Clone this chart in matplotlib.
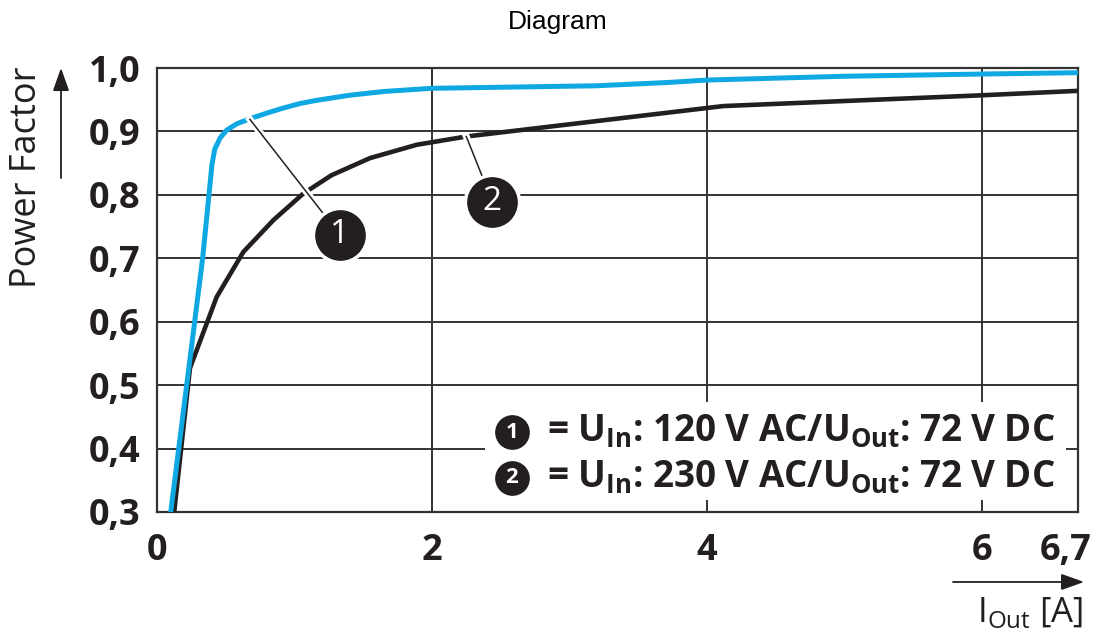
import matplotlib.pyplot as plt
import matplotlib.patheffects as pe
from matplotlib.patches import Rectangle

plt.rcParams['font.family'] = ['Open Sans', 'DejaVu Sans']
plt.rcParams['mathtext.fontset'] = 'custom'
plt.rcParams['mathtext.rm'] = 'Open Sans'
plt.rcParams['mathtext.bf'] = 'Open Sans:bold'

# 曲线数据
i_out_120 = [0.10, 0.216, 0.332, 0.40, 0.42, 0.46, 0.507, 0.58, 0.676, 0.80, 0.92, 1.04, 1.16, 1.28,
             1.40, 1.65, 2.0, 3.2, 3.7, 4.0, 5.0, 6.0, 6.7]
pf_120 = [0.30, 0.50, 0.70, 0.848, 0.872, 0.890, 0.902, 0.912, 0.920, 0.929, 0.937, 0.944, 0.949, 0.953,
          0.957, 0.963, 0.968, 0.972, 0.977, 0.981, 0.987, 0.9905, 0.9926]

i_out_230 = [0.125, 0.24, 0.434, 0.628, 0.846, 1.064, 1.27, 1.55, 1.89, 2.25, 4.12, 6.0, 6.7]
pf_230 = [0.30, 0.527, 0.639, 0.710, 0.760, 0.802, 0.831, 0.858, 0.879, 0.892, 0.940, 0.957, 0.964]

x_ticks = [0, 2, 4, 6]
x_ticklabels = ['0', '2', '4', '6']
y_ticks = [0.3, 0.4, 0.5, 0.6, 0.7, 0.8, 0.9, 1.0]
y_ticklabels = ['0,3', '0,4', '0,5', '0,6', '0,7', '0,8', '0,9', '1,0']

legend_texts = [r'= U$_{\mathbf{In}}$: 120 V AC/U$_{\mathbf{Out}}$: 72 V DC',
                r'= U$_{\mathbf{In}}$: 230 V AC/U$_{\mathbf{Out}}$: 72 V DC']

blue = '#0fa8e2'
dark = '#231f20'
grid_c = '#333333'

fig = plt.figure(figsize=(11.01, 6.38), dpi=100)
ax = fig.add_axes([0.1426, 0.1975, 0.8365, 0.6959])
ax.set_xlim(0, 6.7)
ax.set_ylim(0.3, 1.0)

for v in [2, 4, 6]:
    ax.axvline(v, color=grid_c, lw=1.4, zorder=1)
for v in y_ticks[1:-1]:
    ax.axhline(v, color=grid_c, lw=1.4, zorder=1)
for s in ax.spines.values():
    s.set_color(grid_c)
    s.set_linewidth(1.6)

ax.set_xticks(x_ticks)
ax.set_xticklabels(x_ticklabels, fontweight='bold', fontsize=26)
ax.set_yticks(y_ticks)
ax.set_yticklabels(y_ticklabels, fontweight='bold', fontsize=26)
ax.tick_params(axis='y', length=0, pad=12, colors=dark)
ax.tick_params(axis='x', length=0, pad=15, colors=dark)
ax.annotate('6,7', xy=(6.7, 0), xycoords=('data', 'axes fraction'), xytext=(-9, -15),
            textcoords='offset points', ha='center', va='top', fontsize=26, fontweight='bold',
            color=dark, annotation_clip=False)

ax.plot(i_out_230, pf_230, color=dark, lw=3.3, zorder=3, solid_joinstyle='round')
ax.plot(i_out_120, pf_120, color=blue, lw=3.6, zorder=3, solid_joinstyle='round')

# 引线和编号圆圈
halo = [pe.Stroke(linewidth=5, foreground='white'), pe.Normal()]
callouts = [('1', (0.676, 0.919), (1.33, 0.737)), ('2', (2.25, 0.892), (2.44, 0.789))]
for num, (x0, y0), (x1, y1) in callouts:
    ax.plot([x0, x1], [y0, y1], color=dark, lw=1.1, zorder=4, path_effects=halo)
    ax.plot(x1, y1, 'o', ms=39, mfc=dark, mec='white', mew=2.5, zorder=5)
    ax.text(x1, y1, num, color='white', fontsize=24, ha='center', va='center', zorder=6)

# 图例框
ax.add_patch(Rectangle((0.356, 0.027), 0.631, 0.221, transform=ax.transAxes,
                       facecolor='white', edgecolor='none', zorder=2))
for k, (txt, yy) in enumerate(zip(legend_texts, [0.180, 0.0766])):
    ax.plot(0.385, yy, 'o', ms=25, mfc=dark, mec='none', transform=ax.transAxes, zorder=5)
    ax.text(0.385, yy, str(k + 1), color='white', fontsize=16, fontweight='bold', ha='center',
            va='center', transform=ax.transAxes, zorder=6)
    ax.text(0.4235, yy, txt, fontsize=26.5, fontweight='bold', color=dark, ha='left', va='center',
            transform=ax.transAxes, zorder=6)

fig.text(0.5068, 1 - 29 / 638, 'Diagram', fontsize=19, family='Liberation Sans', ha='center',
         va='baseline')
fig.text(0.0245, 0.7226, 'Power Factor', fontsize=26, rotation=90, ha='center', va='center',
         color=dark)
arrow_style = dict(arrowstyle='-|>,head_length=1.4,head_width=0.5', color=dark, lw=1.3,
                   shrinkA=0, shrinkB=0)
ax.annotate('', xy=(0.0554, 0.8934), xytext=(0.0554, 0.721), xycoords='figure fraction',
            arrowprops=arrow_style, annotation_clip=False)
ax.annotate('', xy=(0.9846, 0.0878), xytext=(0.8656, 0.0878), xycoords='figure fraction',
            arrowprops=arrow_style, annotation_clip=False)
fig.text(977 / 1101, 1 - 622 / 638, r'I$_{\mathrm{Out}}$ [A]', fontsize=25, ha='left',
         va='baseline', color=dark)

plt.savefig('out.png', dpi=100)
